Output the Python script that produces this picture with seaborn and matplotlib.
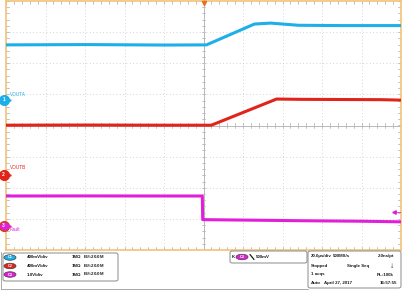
import numpy as np
import pandas as pd
import matplotlib
matplotlib.use("Agg")
import matplotlib.pyplot as plt
import seaborn as sns
from matplotlib.patches import FancyBboxPatch, Ellipse

sns.set_theme(style="white")
plt.rcParams['font.family'] = ['Liberation Sans', 'DejaVu Sans']

# ---------------- data (read from the screen) ----------------
# time in microseconds, voltage in volts
cyan_t = [-100, -60, -20, 0, 1.5, 25.8, 34, 48, 70, 100]
cyan_v = [0.708, 0.712, 0.706, 0.708, 0.708, 0.976, 0.988, 0.960, 0.956, 0.956]
red_t = [-100, -60, -20, 0, 4, 37, 50, 70, 90, 100]
red_v = [0.640, 0.642, 0.640, 0.640, 0.640, 0.976, 0.972, 0.970, 0.968, 0.962]
mag_t = [-100, -60, -20, -0.6, -0.4, 0, 30, 50, 80, 100]
mag_v = [0.950, 0.952, 0.950, 0.950, 0.190, 0.190, 0.170, 0.155, 0.140, 0.120]

channels = ["VOUTA", "VOUTB", "Fault"]
volts_per_div = [0.4, 0.4, 1.0]
ground_div = [0.82, -1.59, -3.215]  # screen offsets of channel grounds
colors = ["#1eaee8", "#e2231a", "#e020d8"]
scale_labels = ["400mV/div", "400mV/div", "1.0V/div"]

# ---------------- build table ----------------
rows = []
for name, ts, vs, vpd, g in zip(channels, [cyan_t, red_t, mag_t], [cyan_v, red_v, mag_v],
                                volts_per_div, ground_div):
    for t, v in zip(ts, vs):
        rows.append({"t": t, "div": v / vpd + g, "ch": name})
df = pd.DataFrame(rows)

W, H = 405, 291
fig = plt.figure(figsize=(W / 100, H / 100), dpi=100)
fig.patch.set_facecolor("white")

def fx(px):
    return px / W

def fy(py):
    return 1 - py / H

ax = fig.add_axes([fx(6), fy(250), fx(401) - fx(6), fy(1) - fy(250)])
ax.set_xlim(-100, 100)
ax.set_ylim(-4, 4)
ax.set_facecolor("white")

# grid: dotted division lines
for k in range(-4, 5):
    xv = k * 20
    if k != 0:
        ax.plot([xv] * 2, [-4, 4], color="#c8c8c8", lw=0.6, ls=(0, (1, 3)), zorder=1)
for k in range(-3, 4):
    if k != 0:
        ax.plot([-100, 100], [k] * 2, color="#c8c8c8", lw=0.6, ls=(0, (1, 3)), zorder=1)
# center lines
ax.axvline(0, color="#b8b8b8", lw=0.7, zorder=1)
ax.axhline(0, color="#b8b8b8", lw=0.7, zorder=1)
# minor ticks along center lines and borders
for m in np.arange(-100, 100.1, 4):
    ax.plot([m, m], [-0.07, 0.07], color="#b8b8b8", lw=0.6, zorder=1)
    ax.plot([m, m], [3.9, 4], color="#b8b8b8", lw=0.6, zorder=1)
    ax.plot([m, m], [-4, -3.9], color="#b8b8b8", lw=0.6, zorder=1)
for m in np.arange(-4, 4.01, 0.2):
    ax.plot([-0.7, 0.7], [m, m], color="#b8b8b8", lw=0.6, zorder=1)
    ax.plot([-100, -98.6], [m, m], color="#b8b8b8", lw=0.6, zorder=1)
    ax.plot([98.6, 100], [m, m], color="#b8b8b8", lw=0.6, zorder=1)

sns.lineplot(data=df, x="t", y="div", hue="ch", palette=colors, sort=False,
             estimator=None, lw=2.2, legend=False, ax=ax, zorder=3)

ax.set_xticks([])
ax.set_yticks([])
ax.set_xlabel("")
ax.set_ylabel("")
for s in ax.spines.values():
    s.set_color("#f2c27a")
    s.set_linewidth(1.2)

# channel ground markers and labels
for i, (name, g, c) in enumerate(zip(channels, ground_div, colors)):
    ax.plot([-101.2], [g], marker="o", ms=7, color=c, mec="#d04010" if i == 2 else c,
            clip_on=False, zorder=5)
    ax.text(-101.2, g, str(i + 1), color="white", fontsize=3.5, ha="center", va="center",
            clip_on=False, zorder=6, fontweight="bold")
    ax.plot([-98.5], [g], marker=">", ms=2.5, color=c, clip_on=False, zorder=5)
    ax.plot([-100, -98.5], [g, g], color=c, lw=0.6, clip_on=False, zorder=5)
label_dy = [0.17, 0.23, -0.13]
for name, g, c, dy in zip(channels, ground_div, colors, label_dy):
    ax.text(-98.2, g + dy, name, color=c, fontsize=3.4, ha="left", va="center", zorder=5)

# trigger level marker (right) and trigger time marker (top)
trig_level = -2.79
ax.plot([96.5, 100], [trig_level] * 2, color=colors[2], lw=0.6, zorder=5)
ax.plot([96.5], [trig_level], marker="<", ms=2.5, color=colors[2], zorder=5)
ax.plot([0], [3.95], marker="v", ms=3, color="#e8701a", clip_on=False, zorder=5)

# ---------------- bottom info panel ----------------
def box(x0, y0, x1, y1, lw=0.7, ec="#8a8a8a"):
    p = FancyBboxPatch((fx(x0), fy(y1)), fx(x1) - fx(x0), fy(y0) - fy(y1),
                       boxstyle="round,pad=0,rounding_size=0.006", transform=fig.transFigure,
                       fc="white", ec=ec, lw=lw)
    fig.patches.append(p)

# outer frame lines
fig.add_artist(plt.Line2D([fx(1), fx(1)], [fy(252), fy(289)], color="#9a9a9a", lw=0.6,
                          transform=fig.transFigure))
fig.add_artist(plt.Line2D([fx(1), fx(308)], [fy(289), fy(289)], color="#9a9a9a", lw=0.6,
                          transform=fig.transFigure))

box(3, 253, 118, 281)
box(230, 251, 307, 263)
box(308, 251, 401, 288)

fs = 3.2
tc = "#1a1a1a"
kw = dict(fontsize=fs, va="center", color=tc, fontweight="bold")
row_y = [257.5, 266, 274.5]
for i, (c, lab) in enumerate(zip(colors, scale_labels)):
    e = Ellipse((fx(10), fy(row_y[i])), fx(12), 5.5 / H, transform=fig.transFigure,
                fc=c, ec="#404040", lw=0.5)
    fig.patches.append(e)
    fig.text(fx(10), fy(row_y[i]), "C%d" % (i + 1), color="white", fontsize=2.8,
             ha="center", va="center", fontweight="bold")
    fig.text(fx(27), fy(row_y[i]), lab, ha="left", **kw)
    fig.text(fx(72), fy(row_y[i]), "1MΩ", ha="left", **kw)
    fig.text(fx(83), fy(row_y[i]), "B$_W$:20.0M", ha="left", **kw)

# trigger box
fig.text(fx(231.5), fy(257), "K", ha="left", **kw)
e = Ellipse((fx(242), fy(257)), fx(12), 5.5 / H, transform=fig.transFigure,
            fc=colors[2], ec="#404040", lw=0.5)
fig.patches.append(e)
fig.text(fx(242), fy(257), "C3", color="white", fontsize=2.8, ha="center", va="center",
         fontweight="bold")
fig.add_artist(plt.Line2D([fx(250), fx(254)], [fy(254.5), fy(259.5)], color=tc, lw=0.9,
                          transform=fig.transFigure))
fig.text(fx(256), fy(257), "500mV", ha="left", **kw)

# acquisition box
fig.text(fx(311), fy(256), "20.0µs/div", ha="left", **kw)
fig.text(fx(333), fy(256), "500MS/s", ha="left", **kw)
fig.text(fx(394), fy(256), "2.0ns/pt", ha="right", **kw)
fig.text(fx(311), fy(265.5), "Stopped", ha="left", **kw)
fig.text(fx(347), fy(265.5), "Single Seq", ha="left", **kw)
fig.text(fx(392), fy(267), "↓", fontsize=6, ha="center", va="center", color=tc,
         fontweight="bold")
fig.text(fx(311), fy(274.5), "1 acqs", ha="left", **kw)
fig.text(fx(394), fy(274.5), "RL:100k", ha="right", **kw)
fig.text(fx(311), fy(283), "Auto", ha="left", **kw)
fig.text(fx(324), fy(283), "April 27, 2017", ha="left", **kw)
fig.text(fx(397), fy(283), "16:57:55", ha="right", **kw)

fig.savefig("out.png", dpi=100, facecolor="white")
